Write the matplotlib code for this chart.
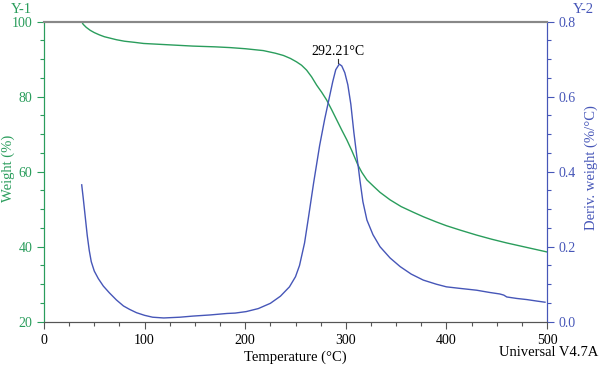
import numpy as np
import matplotlib.pyplot as plt
from matplotlib.ticker import MultipleLocator

plt.rcParams['font.family'] = ['Liberation Serif', 'DejaVu Serif']

# weight curve (TGA)
temp_w = [37.5, 39, 42, 46, 50, 55, 60, 66, 72, 80, 90, 99, 120, 148, 170, 185,
          200, 218, 230, 238, 245, 251, 256, 261, 266, 271, 276, 281, 286, 291,
          296, 301, 306, 312, 316, 321, 328, 334, 344, 355, 367, 377, 390, 400,
          414, 430, 445, 460, 480, 500]
weight = [100.0, 99.3, 98.5, 97.7, 97.1, 96.5, 96.0, 95.6, 95.2, 94.8, 94.5, 94.2,
          93.9, 93.5, 93.3, 93.1, 92.8, 92.3, 91.6, 91.0, 90.2, 89.3, 88.4, 87.1,
          85.3, 83.1, 81.2, 79.1, 76.5, 73.8, 71.1, 68.5, 65.6, 61.8, 59.8, 57.8,
          56.0, 54.5, 52.5, 50.7, 49.2, 48.0, 46.6, 45.6, 44.4, 43.1, 42.0, 41.0,
          39.8, 38.6]

# derivative weight curve (DTG)
temp_d = [37.5, 39, 41, 43, 45, 47, 50, 54, 59, 65, 72, 79, 85, 92, 100, 108, 119,
          135, 148, 165, 182, 190, 201, 213, 225, 235, 244, 250, 254, 259, 263, 268,
          274, 279, 283, 287, 290, 293.5, 296, 299, 302, 305, 308, 311, 312.4, 314,
          317, 321, 327, 334, 344, 354, 365, 377, 390, 400, 413, 430, 443, 453, 457,
          460, 470, 480, 490, 498]
deriv = [0.365, 0.33, 0.28, 0.23, 0.19, 0.16, 0.135, 0.115, 0.095, 0.077, 0.058,
         0.042, 0.033, 0.024, 0.017, 0.012, 0.010, 0.012, 0.015, 0.018, 0.022, 0.023,
         0.027, 0.035, 0.049, 0.068, 0.093, 0.12, 0.15, 0.21, 0.28, 0.37, 0.47, 0.54,
         0.59, 0.64, 0.672, 0.687, 0.682, 0.664, 0.632, 0.58, 0.505, 0.44, 0.413,
         0.378, 0.32, 0.271, 0.232, 0.20, 0.17, 0.147, 0.127, 0.111, 0.10, 0.093,
         0.089, 0.084, 0.078, 0.074, 0.071, 0.066, 0.062, 0.059, 0.055, 0.052]

peak_t = 292.21
green = '#2a9d5c'
blue = '#4656b8'

fig = plt.figure(figsize=(6, 3.65), dpi=100)
ax = fig.add_axes([0.0733, 0.1186, 0.8384, 0.8219])
ax2 = ax.twinx()

ax.plot(temp_w, weight, color=green, lw=1)
ax2.plot(temp_d, deriv, color=blue, lw=1)

ax.set_xlim(0, 500)
ax.set_ylim(20, 100)
ax2.set_ylim(0, 0.8)
ax.xaxis.set_major_locator(MultipleLocator(100))
ax.xaxis.set_minor_locator(MultipleLocator(25))
ax.yaxis.set_major_locator(MultipleLocator(20))
ax.yaxis.set_minor_locator(MultipleLocator(5))
ax2.yaxis.set_major_locator(MultipleLocator(0.2))
ax2.yaxis.set_minor_locator(MultipleLocator(0.05))
ax2.yaxis.set_major_formatter(lambda v, p: f'{v:.1f}')

for a in (ax, ax2):
    a.tick_params(which='major', length=5, width=0.8, labelsize=10)
    a.tick_params(which='minor', length=3, width=0.8)
    a.spines['top'].set_color('#888888')
    a.spines['top'].set_linewidth(1.5)
    a.spines['bottom'].set_color('#555555')
    a.spines['left'].set_color(green)
    a.spines['right'].set_color(blue)
ax.tick_params(axis='y', which='both', colors=green)
ax2.tick_params(axis='y', which='both', colors=blue)
ax.tick_params(axis='x', which='both', colors='#555555', labelcolor='black')

ax.set_xlabel('Temperature (°C)', fontsize=10.5, labelpad=3)
fig.text(0.014, 0.54, 'Weight (%)', rotation=90, ha='center', va='center',
         fontsize=10.5, color=green)
fig.text(0.985, 0.54, 'Deriv. weight (%/°C)', rotation=90, ha='center',
         va='center', fontsize=10.5, color=blue)

fig.text(0.018, 0.965, 'Y-1', color=green, fontsize=10.5)
fig.text(0.955, 0.965, 'Y-2', color=blue, fontsize=10.5)
fig.text(0.998, 0.025, 'Universal V4.7A', ha='right', fontsize=10.5)

ax2.plot([peak_t, peak_t], [0.690, 0.701], color='#333333', lw=0.8)
ax2.text(peak_t, 0.703, f'{peak_t:.2f}°C', ha='center', va='bottom', fontsize=10)

fig.savefig('out.png', dpi=100)
